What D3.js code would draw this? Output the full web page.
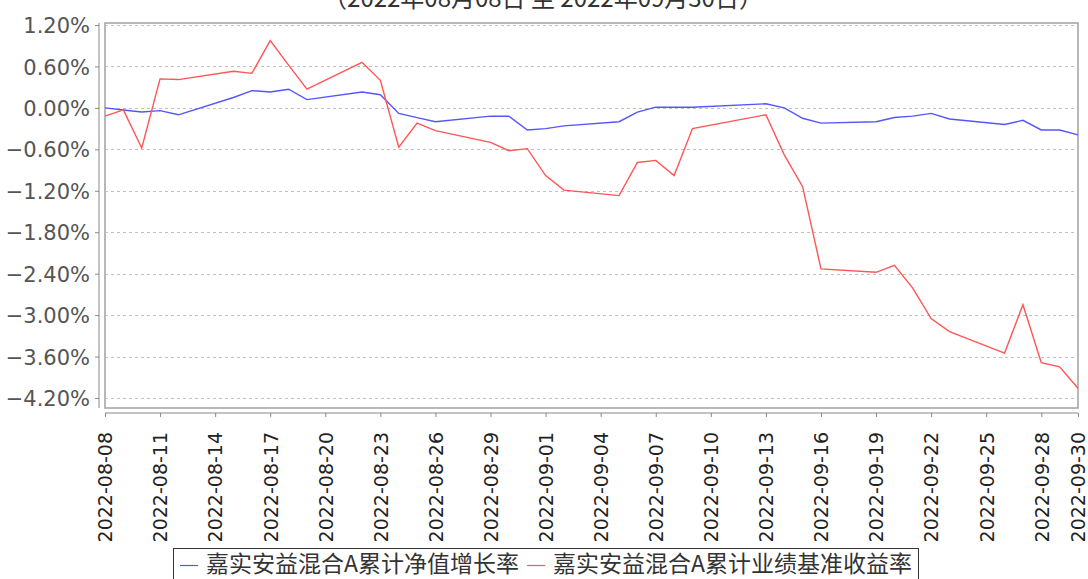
<!DOCTYPE html>
<html>
<head>
<meta charset="utf-8">
<script src="https://cdn.jsdelivr.net/npm/d3@7"></script>
<style>
  html, body { margin: 0; padding: 0; background: #fff; }
  svg { display: block; }
</style>
</head>
<body>
<svg id="chart" width="1088" height="579"></svg>
<script>
const dates = ["2022-08-08","2022-08-09","2022-08-10","2022-08-11","2022-08-12",
  "2022-08-15","2022-08-16","2022-08-17","2022-08-18","2022-08-19",
  "2022-08-22","2022-08-23","2022-08-24","2022-08-25","2022-08-26",
  "2022-08-29","2022-08-30","2022-08-31","2022-09-01","2022-09-02",
  "2022-09-05","2022-09-06","2022-09-07","2022-09-08","2022-09-09",
  "2022-09-13","2022-09-14","2022-09-15","2022-09-16",
  "2022-09-19","2022-09-20","2022-09-21","2022-09-22","2022-09-23",
  "2022-09-26","2022-09-27","2022-09-28","2022-09-29","2022-09-30"];
const navGrowth = [0.00,-0.03,-0.06,-0.04,-0.10,
  0.15,0.25,0.23,0.27,0.12,
  0.23,0.19,-0.08,-0.14,-0.20,
  -0.12,-0.12,-0.32,-0.30,-0.26,
  -0.20,-0.06,0.01,0.01,0.01,
  0.06,0.00,-0.15,-0.22,
  -0.20,-0.14,-0.12,-0.08,-0.16,
  -0.24,-0.18,-0.32,-0.32,-0.39];
const benchmark = [-0.12,-0.03,-0.58,0.42,0.41,
  0.53,0.50,0.975,0.62,0.27,
  0.66,0.40,-0.57,-0.22,-0.33,
  -0.50,-0.62,-0.59,-0.98,-1.19,
  -1.27,-0.79,-0.76,-0.98,-0.30,
  -0.10,-0.68,-1.14,-2.33,
  -2.38,-2.28,-2.61,-3.05,-3.24,
  -3.55,-2.85,-3.69,-3.75,-4.06];
const yTicks = [1.2,0.6,0.0,-0.6,-1.2,-1.8,-2.4,-3.0,-3.6,-4.2];
const xTickLabels = ["2022-08-08","2022-08-11","2022-08-14","2022-08-17","2022-08-20",
  "2022-08-23","2022-08-26","2022-08-29","2022-09-01","2022-09-04","2022-09-07",
  "2022-09-10","2022-09-13","2022-09-16","2022-09-19","2022-09-22","2022-09-25",
  "2022-09-28","2022-09-30"];
const seriesNames = ["嘉实安益混合A累计净值增长率","嘉实安益混合A累计业绩基准收益率"];
const seriesColors = ["#5555ff","#ff5555"];
const subtitle = "（2022年08月08日 至 2022年09月30日）";

const parse = d3.utcParse("%Y-%m-%d");
const svg = d3.select("#chart");
const L = 105, R = 1078, T = 23, B = 408;

const x = d3.scaleUtc().domain([parse("2022-08-08"), parse("2022-09-30")]).range([L, R]);
const y = d3.scaleLinear().domain([-4.2, 1.2]).range([398, 25]);

// subtitle (clipped at top, as in the reference)
svg.append("text").attr("x", 543).attr("y", 7).attr("text-anchor", "middle")
  .attr("font-family", "'Noto Sans CJK SC', 'DejaVu Sans', sans-serif")
  .attr("font-size", 24).attr("fill", "#333").text(subtitle);

// plot background/frame
svg.append("rect").attr("x", L).attr("y", T).attr("width", R - L).attr("height", B - T)
  .attr("fill", "#fff").attr("stroke", "#a0a0a0").attr("stroke-width", 1.5);

// gridlines
svg.append("g").selectAll("line").data(yTicks).join("line")
  .attr("x1", L).attr("x2", R)
  .attr("y1", d => Math.round(y(d)) + 0.5).attr("y2", d => Math.round(y(d)) + 0.5)
  .attr("stroke", "#c0c0c0").attr("stroke-width", 1).attr("stroke-dasharray", "3,3");

// y axis
const yAxis = d3.axisLeft(y).tickValues(yTicks).tickSize(4).tickPadding(5)
  .tickFormat(d => d3.format(".2f")(d) + "%");
const gy = svg.append("g").attr("transform", "translate(99,0)").call(yAxis);
gy.select(".domain").attr("stroke", "#888").attr("d", `M-0,${T}V${B}`);
gy.selectAll(".tick line").attr("stroke", "#888");
gy.selectAll(".tick text").attr("font-family", "'DejaVu Sans', sans-serif")
  .attr("font-size", 21).attr("fill", "#555").attr("dy", "0.36em");

// x axis
const xAxis = d3.axisBottom(x).tickValues(xTickLabels.map(parse)).tickSize(4).tickPadding(6)
  .tickFormat(d3.utcFormat("%Y-%m-%d"));
const gx = svg.append("g").attr("transform", "translate(0,413)").call(xAxis);
gx.select(".domain").attr("stroke", "#888").attr("d", `M${L},0H${R}`);
gx.selectAll(".tick line").attr("stroke", "#888");
gx.selectAll(".tick text").attr("font-family", "'DejaVu Sans', sans-serif")
  .attr("font-size", 19).attr("fill", "#222")
  .attr("text-anchor", "end").attr("dy", "0.36em")
  .attr("transform", "translate(0,19) rotate(-90)").attr("x", 0).attr("y", 0);

// lines
const series = [navGrowth, benchmark];
const line = d3.line().x(d => x(d[0])).y(d => y(d[1]));
series.forEach((vals, i) => {
  const pts = dates.map((d, j) => [parse(d), vals[j]]);
  svg.append("path").datum(pts).attr("d", line).attr("fill", "none")
    .attr("stroke", seriesColors[i]).attr("stroke-width", 1.4);
});

// legend
const lg = svg.append("g");
lg.append("rect").attr("x", 173.5).attr("y", 548.5).attr("width", 745).attr("height", 40)
  .attr("fill", "#fff").attr("stroke", "#333").attr("stroke-width", 1);
const legendX = [180, 527];
seriesNames.forEach((n, i) => {
  lg.append("line").attr("x1", legendX[i]).attr("x2", legendX[i] + 18)
    .attr("y1", 565.5).attr("y2", 565.5).attr("stroke", seriesColors[i]).attr("stroke-width", 1.2);
  lg.append("text").attr("x", legendX[i] + 26).attr("y", 572)
    .attr("font-family", "'Noto Sans CJK SC', sans-serif").attr("font-size", 23)
    .attr("fill", "#333").text(n);
});
</script>
</body>
</html>
